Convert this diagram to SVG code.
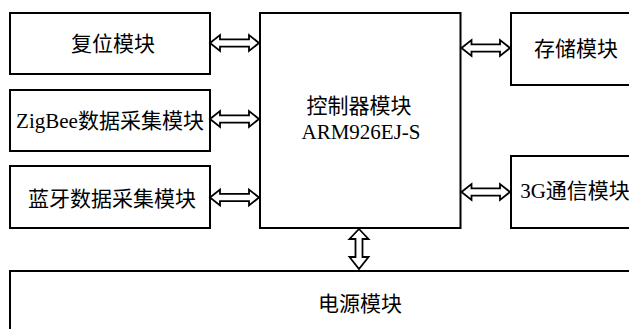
<svg xmlns="http://www.w3.org/2000/svg" width="629" height="329" viewBox="0 0 629 329">
<style>
.box{fill:#fff;stroke:#000;stroke-width:2}
.arr{fill:#fff;stroke:#000;stroke-width:1.8;stroke-linejoin:miter}
text{font-family:"Noto Sans CJK SC",sans-serif;font-size:21px;fill:#000;text-anchor:middle}
.lat{font-family:"Liberation Serif",serif}
</style>
<rect width="629" height="329" fill="#fff"/>
<g id="reset"><rect class="box" x="10" y="13" width="200" height="61"/><text x="113" y="51">复位模块</text></g>
<g id="zigbee"><rect class="box" x="10" y="90" width="200" height="61"/><text x="110" y="128"><tspan class="lat">ZigBee</tspan>数据采集模块</text></g>
<g id="bluetooth"><rect class="box" x="10" y="166" width="200" height="62"/><text x="112" y="206">蓝牙数据采集模块</text></g>
<g id="controller"><rect class="box" x="260" y="13" width="200.5" height="215"/><text x="359" y="113">控制器模块</text><text class="lat" x="361" y="139">ARM926EJ-S</text></g>
<g id="storage"><rect class="box" x="511" y="13" width="200" height="72"/><text x="576" y="56">存储模块</text></g>
<g id="comm3g"><rect class="box" x="511" y="156" width="200" height="72"/><text x="575" y="198"><tspan class="lat">3G</tspan>通信模块</text></g>
<g id="power"><rect class="box" x="10" y="271" width="700" height="100"/><text x="360" y="311">电源模块</text></g>
<g id="connectors">
<polygon class="arr" points="210,43 220,35 220,39.3 249,39.3 249,35 259,43 249,51 249,46.7 220,46.7 220,51"/>
<polygon class="arr" points="210,119 220,111 220,115.3 249,115.3 249,111 259,119 249,127 249,122.7 220,122.7 220,127"/>
<polygon class="arr" points="210,197.5 220,189.5 220,193.8 249,193.8 249,189.5 259,197.5 249,205.5 249,201.2 220,201.2 220,205.5"/>
<polygon class="arr" points="461.5,48 471.5,40 471.5,44.3 500,44.3 500,40 510,48 500,56 500,51.7 471.5,51.7 471.5,56"/>
<polygon class="arr" points="461.5,192 471.5,184 471.5,188.3 500,188.3 500,184 510,192 500,200 500,195.7 471.5,195.7 471.5,200"/>
<polygon class="arr" points="359,229 368.5,239 362.5,239 362.5,257 368.5,257 359,269 349.5,257 355.5,257 355.5,239 349.5,239"/>
</g>
</svg>
